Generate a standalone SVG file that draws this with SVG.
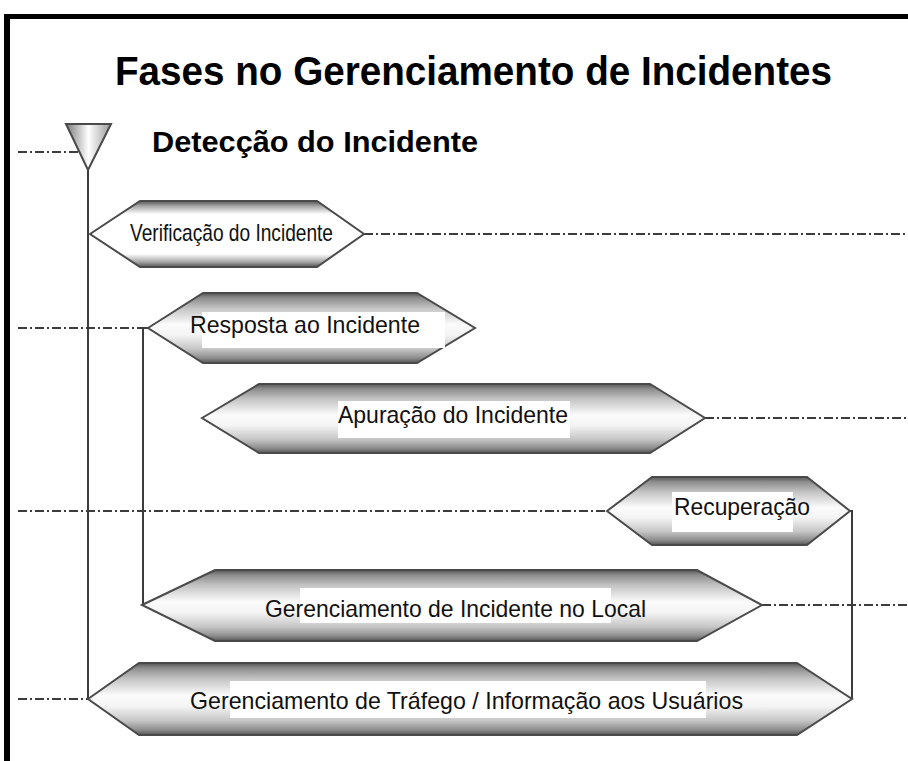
<svg xmlns="http://www.w3.org/2000/svg" width="908" height="761" viewBox="0 0 908 761">
<style>
.hex{stroke:#4a4a4a;stroke-width:2;stroke-linejoin:miter}
.lbl{font-family:"Liberation Sans",Arial,sans-serif;font-size:24px;fill:#111}
.dd{fill:none;stroke:#3c3c3c;stroke-width:2;stroke-dasharray:9 3 2 3}
.solid{fill:none;stroke:#3c3c3c;stroke-width:2}
.tb{fill:#fff}
</style>
<defs>
<linearGradient id="gHex" x1="0" y1="0" x2="0" y2="1">
<stop offset="0" stop-color="#555"/>
<stop offset="0.07" stop-color="#8c8c8c"/>
<stop offset="0.22" stop-color="#c4c4c4"/>
<stop offset="0.45" stop-color="#fbfbfb"/>
<stop offset="0.6" stop-color="#f4f4f4"/>
<stop offset="0.8" stop-color="#c6c6c6"/>
<stop offset="0.93" stop-color="#8c8c8c"/>
<stop offset="1" stop-color="#555"/>
</linearGradient>
<linearGradient id="gVer" x1="0" y1="0" x2="0" y2="1">
<stop offset="0" stop-color="#555"/>
<stop offset="0.08" stop-color="#a8a8a8"/>
<stop offset="0.2" stop-color="#fff"/>
<stop offset="0.8" stop-color="#fff"/>
<stop offset="0.92" stop-color="#a8a8a8"/>
<stop offset="1" stop-color="#555"/>
</linearGradient>
<linearGradient id="gTri" x1="0" y1="0" x2="1" y2="0">
<stop offset="0" stop-color="#7a7a7a"/>
<stop offset="0.5" stop-color="#fff"/>
<stop offset="1" stop-color="#999"/>
</linearGradient>
</defs>
<rect width="908" height="761" fill="#fff"/>
<g id="frame">
<rect x="4" y="14" width="904" height="5" fill="#000"/>
<rect x="4" y="14" width="6" height="747" fill="#000"/>
</g>
<g id="title">
<text x="115" y="85" font-family="Liberation Sans, Arial, sans-serif" font-weight="bold" font-size="40" textLength="717" lengthAdjust="spacingAndGlyphs" fill="#000">Fases no Gerenciamento de Incidentes</text>
</g>
<g id="connectors">
<path class="dd" d="M18 152 H79"/>
<path class="solid" d="M88 170 V699"/>
<path class="dd" d="M364 234 H908"/>
<path class="dd" d="M18 328 H143"/>
<path class="solid" d="M143 328 H148 M143 328 V605"/>
<path class="dd" d="M705 418 H908"/>
<path class="dd" d="M18 511 H607"/>
<path class="solid" d="M850 511 H852 V699"/>
<path class="dd" d="M762 605 H908"/>
<path class="dd" d="M18 699 H88"/>
</g>
<g id="deteccao">
<polygon points="66,124 111,124 88,170" fill="url(#gTri)" stroke="#4a4a4a" stroke-width="2"/>
<text x="152" y="152" font-family="Liberation Sans, Arial, sans-serif" font-weight="bold" font-size="29" textLength="326" lengthAdjust="spacingAndGlyphs" fill="#000">Detecção do Incidente</text>
</g>
<g id="verificacao">
<polygon class="hex" points="90,234 140,201 317,201 364,234 317,267 140,267" fill="url(#gVer)"/>
<text class="lbl" x="130" y="241" font-size="19" textLength="203" lengthAdjust="spacingAndGlyphs">Verificação do Incidente</text>
</g>
<g id="resposta">
<polygon class="hex" points="148,328 203,293 417,293 475,328 417,363 203,363" fill="url(#gHex)"/>
<rect class="tb" x="202" y="312" width="243" height="36"/>
<text class="lbl" x="190" y="333" textLength="230" lengthAdjust="spacingAndGlyphs">Resposta ao Incidente</text>
</g>
<g id="apuracao">
<polygon class="hex" points="202,418 259,384 650,384 705,418 650,453 259,453" fill="url(#gHex)"/>
<rect class="tb" x="338" y="401" width="232" height="37"/>
<text class="lbl" x="338" y="423" textLength="230" lengthAdjust="spacingAndGlyphs">Apuração do Incidente</text>
</g>
<g id="recuperacao">
<polygon class="hex" points="607,511 652,477 807,477 850,511 807,545 652,545" fill="url(#gHex)"/>
<rect class="tb" x="672" y="492" width="121" height="40"/>
<text class="lbl" x="674" y="515" textLength="136" lengthAdjust="spacingAndGlyphs">Recuperação</text>
</g>
<g id="local">
<polygon class="hex" points="142,605 215,570 697,570 762,605 697,641 215,641" fill="url(#gHex)"/>
<rect class="tb" x="300" y="588" width="311" height="35"/>
<text class="lbl" x="265" y="617" textLength="381" lengthAdjust="spacingAndGlyphs">Gerenciamento de Incidente no Local</text>
</g>
<g id="trafego">
<polygon class="hex" points="88,699 139,663 797,663 852,699 797,735 139,735" fill="url(#gHex)"/>
<rect class="tb" x="230" y="681" width="476" height="37"/>
<text class="lbl" x="190" y="709" textLength="553" lengthAdjust="spacingAndGlyphs">Gerenciamento de Tráfego / Informação aos Usuários</text>
</g>
</svg>
